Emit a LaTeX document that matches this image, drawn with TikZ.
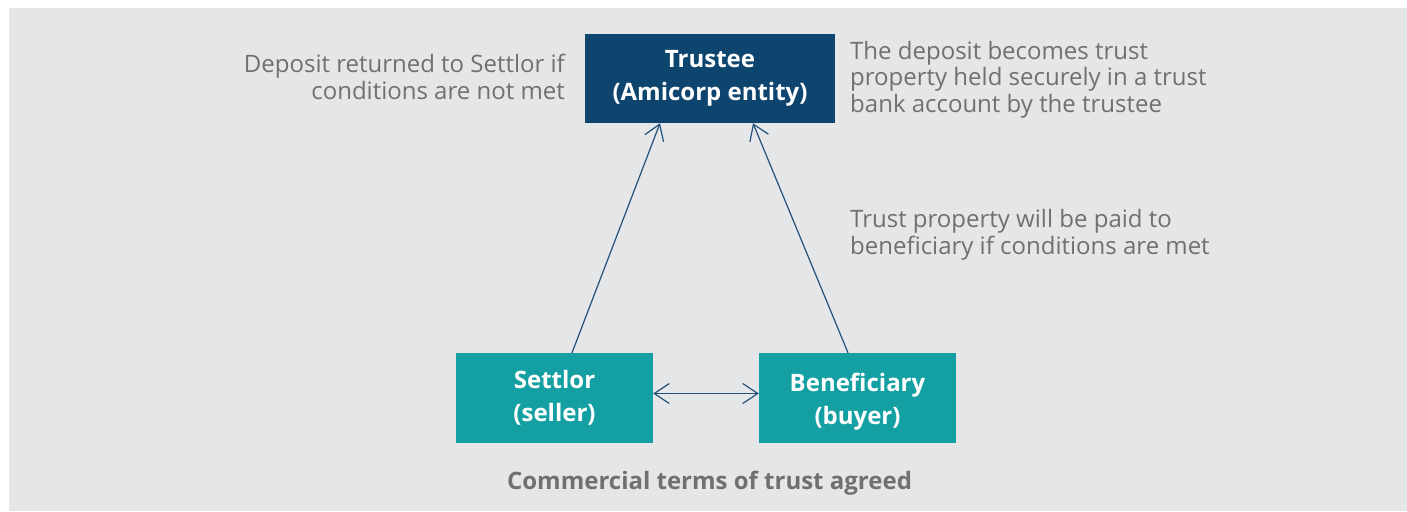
\documentclass[tikz,border=0pt]{standalone}
\usepackage{fontspec}
\setmainfont{Open Sans}
\usetikzlibrary{arrows.meta}
\definecolor{bggrey}{HTML}{E5E6E8}
\definecolor{navy}{HTML}{0D456F}
\definecolor{teal}{HTML}{14A0A2}
\definecolor{txtgrey}{HTML}{707070}
\definecolor{arrowc}{HTML}{22507A}
\tikzset{
  boxtxt/.style={text=white,font=\fontsize{24}{33}\selectfont\bfseries,align=center,inner sep=0pt},
  navybox/.style={boxtxt,fill=navy,minimum width=250pt,minimum height=89pt},
  tealbox/.style={boxtxt,fill=teal,minimum width=197pt,minimum height=90pt},
  note/.style={text=txtgrey,font=\fontsize{24}{26.5}\selectfont,inner sep=0pt},
  arr/.style={draw=arrowc,line width=1.2pt,-{Straight Barb[length=15pt,width=20pt,line width=1.2pt]}},
  darr/.style={draw=arrowc,line width=1.2pt,{Straight Barb[length=15pt,width=20pt,line width=1.2pt]}-{Straight Barb[length=15pt,width=20pt,line width=1.2pt]}}
}
\begin{document}
\begin{tikzpicture}[x=1pt,y=-1pt]
\useasboundingbox (0,0) rectangle (1407,511);
\fill[white] (0,0) rectangle (1407,511);
\fill[bggrey] (9,8) rectangle (1407,511);
\node[navybox] (trustee) at (710,78.5) {Trustee\\(Amicorp entity)};
\node[tealbox] (settlor) at (554.5,398) {Settlor\\(seller)};
\node[tealbox] (benef) at (857.5,398) {\rule{0pt}{26pt}Beneficiary\\(buyer)};
\node[note,align=right,anchor=base east] (lefttxt) at (565,99) {Deposit returned to Settlor if\\conditions are not met};
\node[note,align=left,anchor=base west] (righttxt) at (850,112) {The deposit becomes trust\\property held securely in a trust\\bank account by the trustee};
\node[note,align=left,anchor=base west] (paidtxt) at (850,254) {Trust property will be paid to\\beneficiary if conditions are met};
\node[note,font=\fontsize{24}{27}\selectfont\bfseries,anchor=base] (bottomtxt) at (709.5,489) {Commercial terms of trust agreed};
\draw[arr] ([xshift=17.5pt]settlor.north) -- ([xshift=-50pt]trustee.south);
\draw[arr] ([xshift=-9.5pt]benef.north) -- ([xshift=43pt]trustee.south);
\draw[darr] ([yshift=4.5pt]settlor.east) -- ([yshift=4.5pt]benef.west);
\end{tikzpicture}
\end{document}
